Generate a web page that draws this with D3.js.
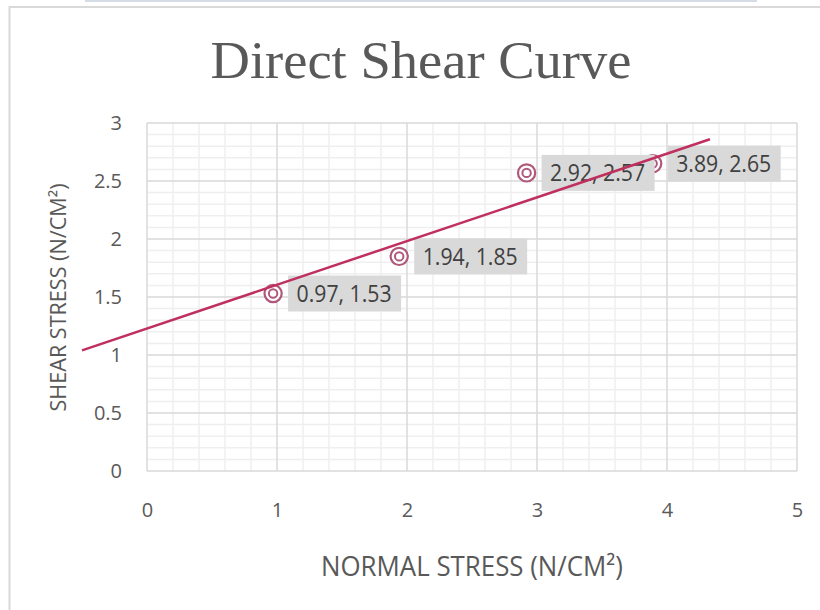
<!DOCTYPE html>
<html>
<head>
<meta charset="utf-8">
<script src="https://cdn.jsdelivr.net/npm/d3@7"></script>
<style>
  body { margin: 0; background: #fff; }
  svg { display: block; }
</style>
</head>
<body>
<svg id="chart" width="820" height="610"></svg>
<script>
// values
var normalStress = [0.97, 1.94, 2.92, 3.89]
var shearStress = [1.53, 1.85, 2.57, 2.65]
// trendline as drawn (start / end)
var trendX = [-0.5, 4.33]
var trendY = [1.04, 2.86]
var xTicks = [0, 1, 2, 3, 4, 5]
var yTicks = [0, 0.5, 1, 1.5, 2, 2.5, 3]

var svg = d3.select("#chart"),
    plot = {left: 147, right: 797, top: 123, bottom: 471}

var x = d3.scaleLinear().domain([0, 5]).range([plot.left, plot.right]),
    y = d3.scaleLinear().domain([0, 3]).range([plot.bottom, plot.top])

var lineCol = "#c0305f", markCol = "#b0587a", textCol = "#595959"

// frame bits
svg.append("rect").attr("x", 85).attr("y", 0).attr("width", 672).attr("height", 2).attr("fill", "#d6dce5")
svg.append("line").attr("x1", 9).attr("x2", 820).attr("y1", 7).attr("y2", 7)
    .attr("stroke", "#d9d9d9").attr("stroke-width", 2)
svg.append("line").attr("x1", 9.5).attr("x2", 9.5).attr("y1", 6).attr("y2", 610)
    .attr("stroke", "#d9d9d9").attr("stroke-width", 2)

// title
svg.append("text")
    .attr("x", 421).attr("y", 77.5)
    .attr("text-anchor", "middle")
    .attr("textLength", 421).attr("lengthAdjust", "spacingAndGlyphs")
    .style("font", "53px 'Liberation Serif', serif")
    .attr("fill", textCol)
    .text("Direct Shear Curve")

// gridlines
var grid = svg.append("g")
var xMinor = d3.range(0, 5.001, 0.2).filter(function(v) { return Math.abs(v - Math.round(v)) > 1e-6 })
var yMinor = d3.range(0, 3.001, 0.1).filter(function(v) { return Math.abs(v * 2 - Math.round(v * 2)) > 1e-6 })

grid.selectAll(".xmin").data(xMinor).enter().append("line")
    .attr("x1", d => x(d)).attr("x2", d => x(d)).attr("y1", plot.top).attr("y2", plot.bottom)
    .attr("stroke", "#efefef").attr("stroke-width", 1.5)
grid.selectAll(".ymin").data(yMinor).enter().append("line")
    .attr("y1", d => y(d)).attr("y2", d => y(d)).attr("x1", plot.left).attr("x2", plot.right)
    .attr("stroke", "#efefef").attr("stroke-width", 1.5)
grid.selectAll(".xmaj").data(xTicks).enter().append("line")
    .attr("x1", d => x(d)).attr("x2", d => x(d)).attr("y1", plot.top).attr("y2", plot.bottom)
    .attr("stroke", "#d9d9d9").attr("stroke-width", 1.5)
grid.selectAll(".ymaj").data(yTicks).enter().append("line")
    .attr("y1", d => y(d)).attr("y2", d => y(d)).attr("x1", plot.left).attr("x2", plot.right)
    .attr("stroke", "#d9d9d9").attr("stroke-width", 1.5)

// axes (labels only)
svg.append("g")
    .attr("transform", "translate(0," + plot.bottom + ")")
    .call(d3.axisBottom(x).tickValues(xTicks).tickSize(0).tickPadding(32).tickFormat(d3.format("")))
svg.append("g")
    .attr("transform", "translate(" + plot.left + ",0)")
    .call(d3.axisLeft(y).tickValues(yTicks).tickSize(0).tickPadding(25).tickFormat(d3.format("")))
svg.selectAll(".domain").remove()
svg.selectAll(".tick text")
    .style("font-family", "'Open Sans', sans-serif")
    .style("font-size", "20px")
    .attr("fill", textCol)

// axis titles
svg.append("text")
    .attr("x", 321).attr("y", 576)
    .attr("textLength", 302).attr("lengthAdjust", "spacingAndGlyphs")
    .style("font-family", "'Open Sans', sans-serif").style("font-size", "27px")
    .attr("fill", textCol)
    .text("NORMAL STRESS (N/CM²)")

svg.append("text")
    .attr("transform", "translate(66,411.5) rotate(-90)")
    .attr("textLength", 228).attr("lengthAdjust", "spacingAndGlyphs")
    .style("font-family", "'Open Sans', sans-serif").style("font-size", "21px")
    .attr("fill", textCol)
    .text("SHEAR STRESS (N/CM²)")

var pts = normalStress.map(function(v, i) { return {x: v, y: shearStress[i]} })

// markers
var marks = svg.append("g").selectAll("g").data(pts).enter().append("g")
    .attr("transform", d => "translate(" + x(d.x) + "," + y(d.y) + ")")
marks.append("circle").attr("r", 8.6).attr("fill", "#fff").attr("stroke", markCol).attr("stroke-width", 2.2)
marks.append("circle").attr("r", 4.2).attr("fill", "none").attr("stroke", markCol).attr("stroke-width", 2)

// data labels
var labs = svg.append("g").selectAll("g").data(pts).enter().append("g")
    .attr("transform", d => "translate(" + (x(d.x) + 15) + "," + y(d.y) + ")")
labs.append("rect").attr("x", 0).attr("y", -18).attr("width", 113).attr("height", 36).attr("fill", "#d9d9d9")
labs.append("text")
    .attr("x", 8.5).attr("y", 8.5)
    .attr("textLength", 95).attr("lengthAdjust", "spacingAndGlyphs")
    .style("font-family", "'Open Sans', sans-serif").style("font-size", "23px")
    .attr("fill", "#404040")
    .text(d => d.x.toFixed(2) + ", " + d.y.toFixed(2))

// trendline on top
var trend = trendX.map(function(v, i) { return [v, trendY[i]] })
svg.append("path")
    .datum(trend)
    .attr("d", d3.line().x(d => x(d[0])).y(d => y(d[1])))
    .attr("fill", "none").attr("stroke", lineCol).attr("stroke-width", 2.5)
</script>
</body>
</html>
